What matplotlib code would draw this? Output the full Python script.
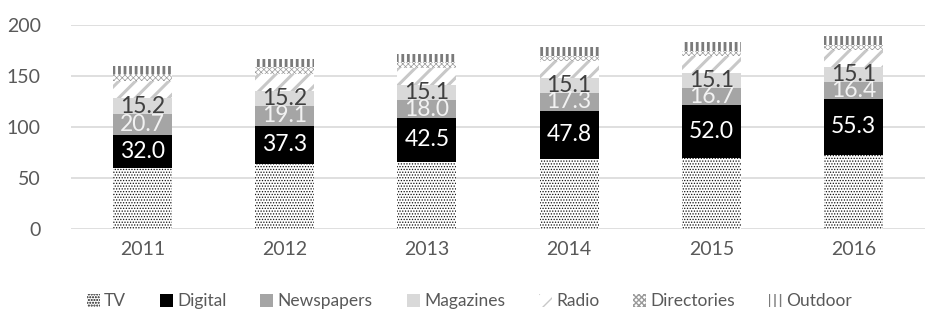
import matplotlib
matplotlib.use("Agg")
import matplotlib.pyplot as plt
import numpy as np
from matplotlib.patches import Patch

plt.rcParams['font.family'] = ['Lato', 'DejaVu Sans']

years = ["2011", "2012", "2013", "2014", "2015", "2016"]
tv = [60.1, 64.0, 66.0, 68.3, 69.3, 72.5]
digital = [32.0, 37.3, 42.5, 47.8, 52.0, 55.3]
newspapers = [20.7, 19.1, 18.0, 17.3, 16.7, 16.4]
magazines = [15.2, 15.2, 15.1, 15.1, 15.1, 15.1]
radio = [17.0, 16.8, 16.4, 16.0, 16.2, 15.8]
directories = [6.5, 6.2, 5.8, 5.4, 5.2, 5.0]
outdoor = [8.0, 8.0, 8.0, 8.2, 9.0, 9.2]

yticks = [0, 50, 100, 150, 200]

# per-series fill: (face, hatch, hatch colour, hatch width)
styles = {
    "TV": ("white", "......", "#111111", 0.6),
    "Digital": ("black", None, "black", 0.0),
    "Newspapers": ("#a5a5a5", None, "#a5a5a5", 0.0),
    "Magazines": ("#d9d9d9", None, "#d9d9d9", 0.0),
    "Radio": ("white", "//", "#c8c8c8", 2.2),
    "Directories": ("white", "xxxxxx", "#9a9a9a", 0.5),
    "Outdoor": ("white", "|||", "#7a7a7a", 2.0),
}
series = [("TV", tv), ("Digital", digital), ("Newspapers", newspapers),
          ("Magazines", magazines), ("Radio", radio),
          ("Directories", directories), ("Outdoor", outdoor)]
label_colors = {"Digital": "white", "Newspapers": "#f2f2f2", "Magazines": "#404040"}

fig = plt.figure(figsize=(9.39, 3.2), dpi=100)
ax = fig.add_axes([0.0760, 0.2844, 0.9087, 0.6375])

x = np.arange(len(years))
width = 0.415
bottom = np.zeros(len(years))
legend_handles = []
for name, vals in series:
    face, hatch, hcol, hlw = styles[name]
    vals = np.array(vals)
    with plt.rc_context({'hatch.linewidth': hlw if hlw else 1.0}):
        ax.bar(x, vals, width, bottom=bottom, color=face,
               edgecolor=hcol, linewidth=0, hatch=hatch, zorder=3)
        h = Patch(facecolor=face, edgecolor=hcol, linewidth=0, hatch=hatch)
    legend_handles.append((h, name))
    if name in label_colors:
        for xi, b, v in zip(x, bottom, vals):
            ax.text(xi, b + v / 2, f"{v:.1f}", ha="center", va="center",
                    fontsize=16.5, color=label_colors[name], zorder=4)
    bottom = bottom + vals

ax.set_xlim(-0.5, len(years) - 0.5)
ax.set_ylim(0, 200)
ax.set_yticks(yticks)
ax.set_xticks(x)
ax.set_xticklabels(years)
ax.tick_params(axis="both", length=0, labelsize=14, labelcolor="#595959")
ax.tick_params(axis="y", pad=22)
ax.tick_params(axis="x", pad=9)
for s in ax.spines.values():
    s.set_visible(False)
ax.yaxis.grid(True, color="#d9d9d9", linewidth=1.2, zorder=0)
ax.set_axisbelow(True)

fig.legend([h for h, _ in legend_handles], [n for _, n in legend_handles],
           loc="center", bbox_to_anchor=(0.5, 0.058), ncol=7, frameon=False,
           fontsize=12.5, labelcolor="#595959", handlelength=0.75,
           handleheight=0.75, handletextpad=0.25, columnspacing=1.95)

fig.savefig("out.png", dpi=100)
